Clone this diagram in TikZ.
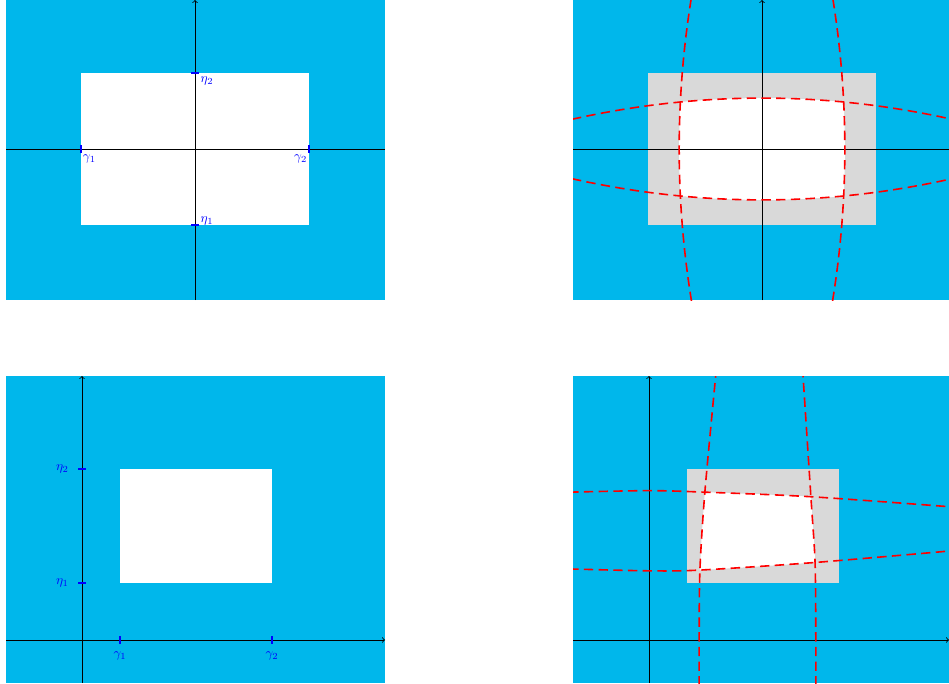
\documentclass[tikz,border=0pt]{standalone}
\usepackage{tikz}
\definecolor{sky}{RGB}{0,183,235}
\tikzset{
  redcurve/.style={red,line width=1.2pt,dash pattern=on 7pt off 4pt},
  tickmark/.style={blue,thick},
  ticklabel/.style={blue,inner sep=1pt},
  axis/.style={semithick}
}

\begin{document}
\begin{tikzpicture}[>=to]
  \useasboundingbox (0,0) rectangle (24.974,17.974);
  % top left: the rectangle
  \begin{scope}[shift={(5.132,14.053)}]
    \clip (-4.974,-3.974) rectangle (5,3.921);
    \fill[sky] (-4.974,-3.974) rectangle (5,3.921);
    \fill[white] (-3,-2) rectangle (3,2);
    \coordinate (Axl) at (-4.974,0); \coordinate (Axr) at (5,0);
    \coordinate (Ayb) at (0,-3.974); \coordinate (Ayt) at (0,3.921);
    \draw[axis] (Axl) -- (Axr);
    \draw[axis,->] (Ayb) -- (Ayt);
    \foreach \x/\lab/\pos in {-3/\gamma_1/{below right},3/\gamma_2/{below left}}
      \draw[tickmark] (\x,-0.1) -- (\x,0.1) (\x,-0.1) node[ticklabel,\pos]{$\lab$};
    \foreach \y/\lab/\pos in {-2/\eta_1/{above right},2/\eta_2/{below right}}
      \draw[tickmark] (-0.1,\y) -- (0.1,\y) (0.1,\y-0.05) node[ticklabel,\pos]{$\lab$};
  \end{scope}
  % top right: image of the grid lines
  \begin{scope}[shift={(20.053,14.053)}]
    \clip (-4.974,-3.974) rectangle (4.921,3.921);
    \fill[sky] (-4.974,-3.974) rectangle (4.921,3.921);
    \fill[gray!30] (-3,-2) rectangle (3,2);
    \begin{scope}
      \clip plot[domain=-5:5] (\x,{1.34-0.0223*\x*\x})
        -- plot[domain=5:-5] (\x,{-1.34+0.0223*\x*\x}) -- cycle;
      \fill[white] plot[domain=-4:4] ({-2.18+0.0202*\x*\x},\x)
        -- plot[domain=4:-4] ({2.18-0.0202*\x*\x},\x) -- cycle;
    \end{scope}
    \coordinate (Bxl) at (-4.974,0); \coordinate (Bxr) at (4.921,0);
    \coordinate (Byb) at (0,-3.974); \coordinate (Byt) at (0,3.921);
    \draw[axis] (Bxl) -- (Bxr);
    \draw[axis,->] (Byb) -- (Byt);
    \draw[redcurve] plot[domain=-5:5] (\x,{1.34-0.0223*\x*\x});
    \draw[redcurve] plot[domain=-5:5] (\x,{-1.34+0.0223*\x*\x});
    \draw[redcurve] plot[domain=-4:4] ({-2.18+0.0202*\x*\x},\x);
    \draw[redcurve] plot[domain=-4:4] ({2.18-0.0202*\x*\x},\x);
  \end{scope}
  % bottom left: shifted rectangle
  \begin{scope}[shift={(2.158,1.132)}]
    \clip (-2,-1.132) rectangle (7.974,6.947);
    \fill[sky] (-2,-1.132) rectangle (7.974,6.947);
    \fill[white] (1,1.5) rectangle (5,4.5);
    \coordinate (Cxl) at (-2,0); \coordinate (Cxr) at (7.974,0);
    \coordinate (Cyb) at (0,-1.132); \coordinate (Cyt) at (0,6.947);
    \draw[axis,->] (Cxl) -- (Cxr);
    \draw[axis,->] (Cyb) -- (Cyt);
    \foreach \x/\lab in {1/\gamma_1,5/\gamma_2}
      \draw[tickmark] (\x,-0.1) -- (\x,0.1) (\x,-0.25) node[ticklabel,below]{$\lab$};
    \foreach \y/\lab in {1.5/\eta_1,4.5/\eta_2}
      \draw[tickmark] (-0.1,\y) -- (0.1,\y) (-0.3,\y) node[ticklabel,left]{$\lab$};
  \end{scope}
  % bottom right: image of the shifted grid lines
  \begin{scope}[shift={(17.079,1.132)}]
    \clip (-2,-1.132) rectangle (7.895,6.947);
    \fill[sky] (-2,-1.132) rectangle (7.895,6.947);
    \fill[gray!30] (1,1.5) rectangle (5,4.5);
    \begin{scope}
      \clip plot[smooth] coordinates {(-2.1,3.89) (0,3.93) (1.47,3.89) (4.26,3.77) (8,3.5)}
        -- plot[smooth] coordinates {(8,2.35) (4.37,2.04) (1.34,1.84) (0,1.82) (-2.1,1.87)} -- cycle;
      \fill[white] plot[smooth] coordinates {(1.32,-1.2) (1.32,0) (1.34,1.84) (1.47,3.89) (1.76,7)}
        -- plot[smooth] coordinates {(4.05,7) (4.26,3.77) (4.37,2.04) (4.39,0) (4.39,-1.2)} -- cycle;
    \end{scope}
    \coordinate (Dxl) at (-2,0); \coordinate (Dxr) at (7.895,0);
    \coordinate (Dyb) at (0,-1.132); \coordinate (Dyt) at (0,6.947);
    \draw[axis,->] (Dxl) -- (Dxr);
    \draw[axis,->] (Dyb) -- (Dyt);
    \draw[redcurve] plot[smooth] coordinates {(-2.1,3.89) (0,3.93) (1.47,3.89) (4.26,3.77) (8,3.5)};
    \draw[redcurve] plot[smooth] coordinates {(-2.1,1.87) (0,1.82) (1.34,1.84) (4.37,2.04) (8,2.35)};
    \draw[redcurve] plot[smooth] coordinates {(1.32,-1.2) (1.32,0) (1.34,1.84) (1.47,3.89) (1.76,7)};
    \draw[redcurve] plot[smooth] coordinates {(4.39,-1.2) (4.39,0) (4.37,2.04) (4.26,3.77) (4.05,7)};
  \end{scope}
\end{tikzpicture}
\end{document}
